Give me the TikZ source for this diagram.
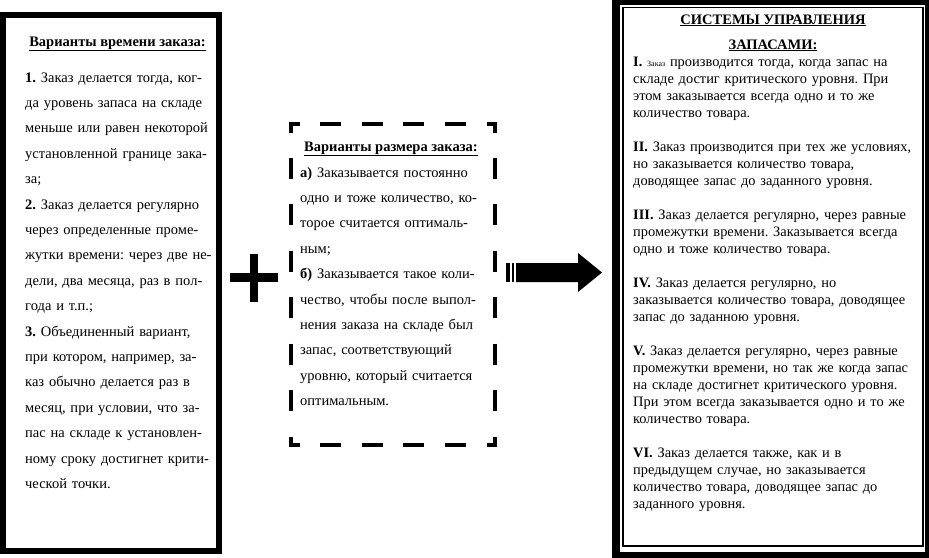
\documentclass[tikz,border=0pt]{standalone}
\usepackage{fontspec}
\setmainfont{Liberation Serif}
\frenchspacing
\begin{document}
\begin{tikzpicture}[x=1pt,y=-1pt,
  txt/.style={anchor=base west, inner sep=0pt, align=left},
  wide/.style={font=\fontsize{14.5}{25.4}\selectfont\frenchspacing},
  tight/.style={font=\fontsize{14.4}{17}\selectfont\frenchspacing},
  ttl/.style={anchor=base, inner sep=0pt, font=\fontsize{14.5}{17}\selectfont\bfseries},
  dashH/.style={line width=4pt, dash pattern=on 21pt off 20.6pt, dash phase=10.5pt},
  dashV/.style={line width=4pt, dash pattern=on 21pt off 25.43pt, dash phase=10.5pt}]
\useasboundingbox (0,0) rectangle (929,557);
\fill[white] (0,0) rectangle (929,557);
% left box
\draw[line width=6pt] (3,15) rectangle (219,551);
\node[ttl] (ttime) at (117.5,46) {\underline{Варианты времени заказа:}};
\node[txt, wide, text width=230pt] (btime) at (25,82) {\textbf{1.} Заказ делается тогда, ког-\\
да уровень запаса на складе\\
меньше или равен некоторой\\
установленной границе зака-\\
за;\\
\textbf{2.} Заказ делается регулярно\\
через определенные проме-\\
жутки времени: через две не-\\
дели, два месяца, раз в пол-\\
года и т.п.;\\
\textbf{3.} Объединенный вариант,\\
при котором, например, за-\\
каз обычно делается раз в\\
месяц, при условии, что за-\\
пас на складе к установлен-\\
ному сроку достигнет крити-\\
ческой точки.};
% plus
\fill (250,254) rectangle (258,302);
\fill (230,273) rectangle (278,282);
% dashed box
\draw[dashH] (289,124) -- (497,124);
\draw[dashH] (289,445) -- (497,445);
\draw[dashV] (291,122) -- (291,447);
\draw[dashV] (495,122) -- (495,447);
\node[ttl] (tsize) at (391,151) {\underline{Варианты размера заказа:}};
\node[txt, wide, text width=230pt] (bsize) at (300,177) {\textbf{а)} Заказывается постоянно\\
одно и тоже количество, ко-\\
торое считается оптималь-\\
ным;\\
\textbf{б)} Заказывается такое коли-\\
чество, чтобы после выпол-\\
нения заказа на складе был\\
запас, соответствующий\\
уровню, который считается\\
оптимальным.};
% arrow
\fill (506,263) rectangle (509.5,282);
\fill (511.5,263) rectangle (514,282);
\fill (516,263) -- (578,263) -- (578,253) -- (602,272.5) -- (578,292) -- (578,282) -- (516,282) -- cycle;
% right box
\fill (612,-1) rectangle (930,558);
\fill[white] (620,5) rectangle (925,552);
\draw[line width=1.2pt] (623,7.5) rectangle (923,546);
\node[ttl] (tsys1) at (773,24) {\underline{СИСТЕМЫ УПРАВЛЕНИЯ}};
\node[ttl] (tsys2) at (773,49) {\underline{ЗАПАСАМИ:}};
\node[txt, tight, text width=295pt] (bsys) at (633,66) {\textbf{I.} {\fontsize{8}{8}\selectfont Заказ} производится тогда, когда запас на\\
складе достиг критического уровня. При\\
этом заказывается всегда одно и то же\\
количество товара.\\[17pt]
\textbf{II.} Заказ производится при тех же условиях,\\
но заказывается количество товара,\\
доводящее запас до заданного уровня.\\[17pt]
\textbf{III.} Заказ делается регулярно, через равные\\
промежутки времени. Заказывается всегда\\
одно и тоже количество товара.\\[17pt]
\textbf{IV.} Заказ делается регулярно, но\\
заказывается количество товара, доводящее\\
запас до заданною уровня.\\[17pt]
\textbf{V.} Заказ делается регулярно, через равные\\
промежутки времени, но так же когда запас\\
на складе достигнет критического уровня.\\
При этом всегда заказывается одно и то же\\
количество товара.\\[17pt]
\textbf{VI.} Заказ делается также, как и в\\
предыдущем случае, но заказывается\\
количество товара, доводящее запас до\\
заданного уровня.};
\end{tikzpicture}
\end{document}
